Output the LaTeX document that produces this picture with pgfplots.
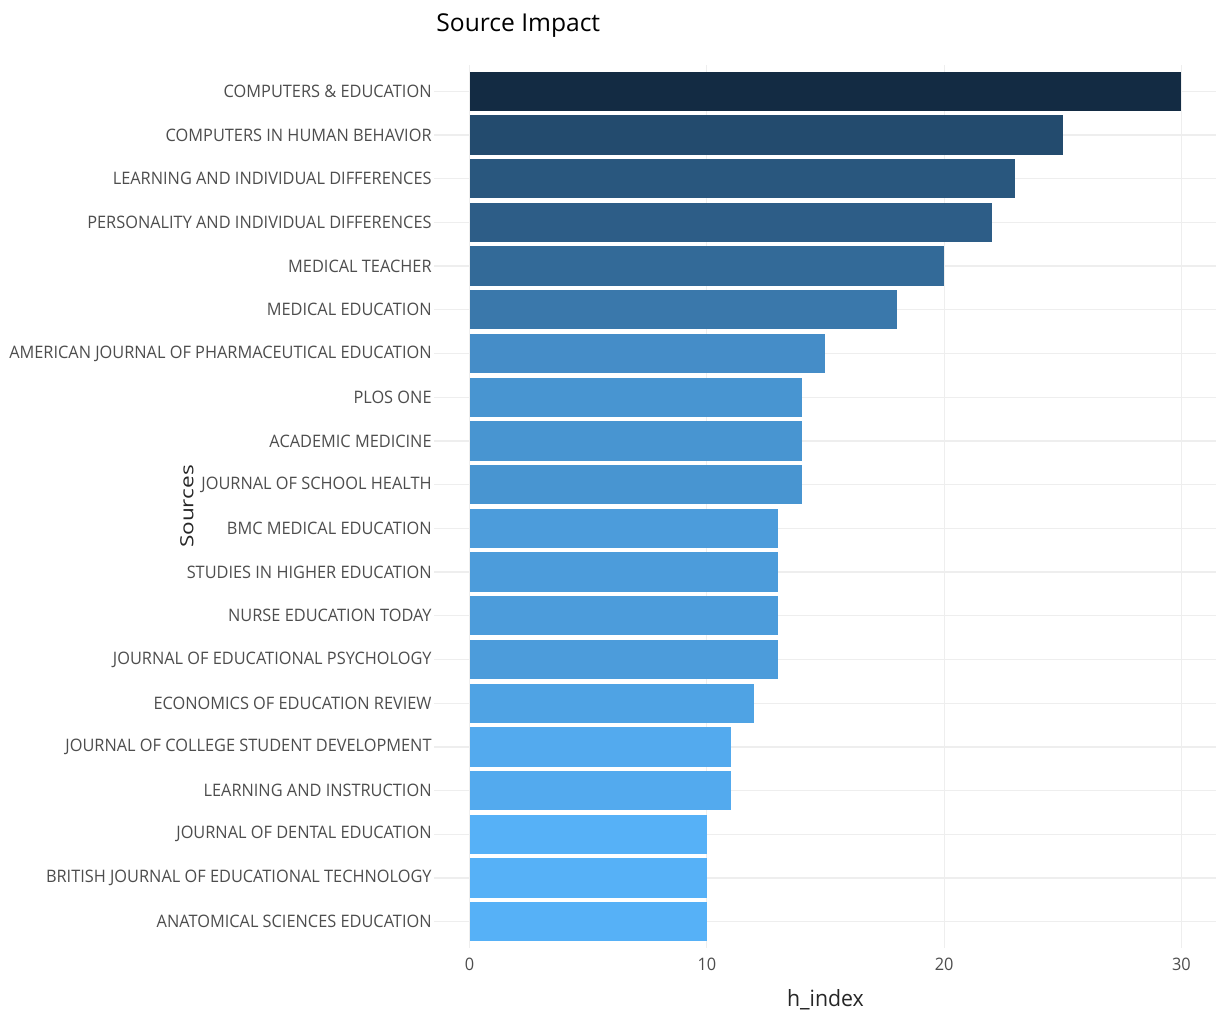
\documentclass[border=0pt]{standalone}
\usepackage{fontspec}
\setmainfont{Open Sans}[FakeStretch=0.95]
\newfontfamily\titlefont{Open Sans}[FakeStretch=1.0]
\newfontfamily\rotfont{Open Sans}[FakeStretch=1.24]
\usepackage{pgfplots}
\pgfplotsset{compat=1.18}

% ggplot default gradient, 10 (light) -> 30 (dark)
\definecolor{c30}{RGB}{19,43,67}
\definecolor{c25}{RGB}{35,75,110}
\definecolor{c23}{RGB}{41,87,126}
\definecolor{c22}{RGB}{45,93,135}
\definecolor{c20}{RGB}{51,106,152}
\definecolor{c18}{RGB}{58,120,171}
\definecolor{c15}{RGB}{69,141,200}
\definecolor{c14}{RGB}{72,149,209}
\definecolor{c13}{RGB}{76,156,219}
\definecolor{c12}{RGB}{79,163,228}
\definecolor{c11}{RGB}{83,170,238}
\definecolor{c10}{RGB}{86,177,247}
\definecolor{gridc}{RGB}{238,238,238}
\definecolor{labc}{RGB}{77,77,77}

\begin{document}
\begin{tikzpicture}
\begin{axis}[
    name=ax,
    scale only axis,
    width=391.5pt, height=441.5pt,
    xbar, bar width=0.9, bar shift=0pt,
    xmin=-1.5, xmax=31.5,
    ymin=-0.6, ymax=19.6,
    xtick={0,10,20,30},
    ytick={0,...,19},
    yticklabels={ANATOMICAL SCIENCES EDUCATION,
      BRITISH JOURNAL OF EDUCATIONAL TECHNOLOGY,
      JOURNAL OF DENTAL EDUCATION,
      LEARNING AND INSTRUCTION,
      JOURNAL OF COLLEGE STUDENT DEVELOPMENT,
      ECONOMICS OF EDUCATION REVIEW,
      JOURNAL OF EDUCATIONAL PSYCHOLOGY,
      NURSE EDUCATION TODAY,
      STUDIES IN HIGHER EDUCATION,
      BMC MEDICAL EDUCATION,
      JOURNAL OF SCHOOL HEALTH,
      ACADEMIC MEDICINE,
      PLOS ONE,
      AMERICAN JOURNAL OF PHARMACEUTICAL EDUCATION,
      MEDICAL EDUCATION,
      MEDICAL TEACHER,
      PERSONALITY AND INDIVIDUAL DIFFERENCES,
      LEARNING AND INDIVIDUAL DIFFERENCES,
      COMPUTERS IN HUMAN BEHAVIOR,
      COMPUTERS \& EDUCATION},
    xmajorgrids, ymajorgrids,
    grid style={gridc, line width=0.6pt},
    axis line style={draw=none},
    major tick length=0pt,
    tick label style={font=\fontsize{8.6}{10}\selectfont, text=labc},
    /pgf/number format/assume math mode=true,
    yticklabel style={anchor=east, inner sep=0pt, xshift=-1pt},
    xticklabel style={anchor=north, inner sep=0pt, yshift=-5pt},
    title={Source Impact},
    title style={at={(axis description cs:0,1)}, anchor=base west,
      inner sep=0pt, xshift=1pt, yshift=10.5pt,
      font=\titlefont\fontsize{12.3}{14}\selectfont},
    xlabel={h\_index},
    xlabel style={at={(axis description cs:0.5,0)}, anchor=base,
      inner sep=0pt, yshift=-29.5pt, font=\fontsize{11.2}{13}\selectfont, text=black!85},
    ylabel={Sources},
    ylabel style={at={(axis description cs:-0.3155,0.5)}, anchor=center,
      inner sep=0pt, font=\rotfont\fontsize{9.1}{11}\selectfont, text=black!85},
    every axis plot/.append style={draw=none},
]
\addplot[fill=c30] coordinates {(30,19)};
\addplot[fill=c25] coordinates {(25,18)};
\addplot[fill=c23] coordinates {(23,17)};
\addplot[fill=c22] coordinates {(22,16)};
\addplot[fill=c20] coordinates {(20,15)};
\addplot[fill=c18] coordinates {(18,14)};
\addplot[fill=c15] coordinates {(15,13)};
\addplot[fill=c14] coordinates {(14,12)};
\addplot[fill=c14] coordinates {(14,11)};
\addplot[fill=c14] coordinates {(14,10)};
\addplot[fill=c13] coordinates {(13,9)};
\addplot[fill=c13] coordinates {(13,8)};
\addplot[fill=c13] coordinates {(13,7)};
\addplot[fill=c13] coordinates {(13,6)};
\addplot[fill=c12] coordinates {(12,5)};
\addplot[fill=c11] coordinates {(11,4)};
\addplot[fill=c11] coordinates {(11,3)};
\addplot[fill=c10] coordinates {(10,2)};
\addplot[fill=c10] coordinates {(10,1)};
\addplot[fill=c10] coordinates {(10,0)};
\end{axis}
\pgfresetboundingbox
\path[use as bounding box] ([xshift=-217pt,yshift=-31.5pt]ax.south west)
  rectangle ([xshift=-0.5pt,yshift=32.5pt]ax.north east);
\end{tikzpicture}
\end{document}
